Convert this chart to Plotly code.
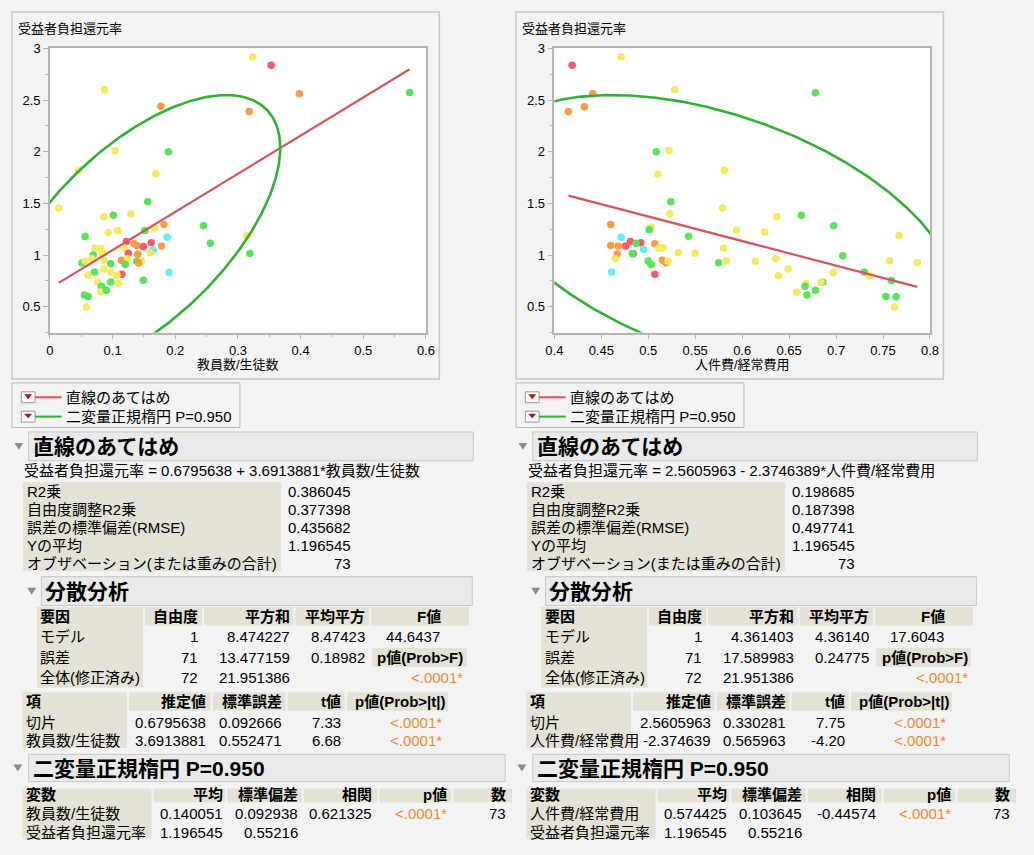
import numpy as np
import plotly.graph_objects as go

W, H = 1034, 855
FONT = "Liberation Sans, Noto Sans CJK JP, sans-serif"

# ---- data: 教員数/生徒数 vs 受益者負担還元率 ----
teacher_ratio = [0.087, 0.177, 0.104, 0.189, 0.169, 0.046, 0.3235, 0.353, 0.398, 0.318,
                 0.574, 0.314, 0.319, 0.014, 0.156, 0.101, 0.086, 0.129, 0.093, 0.108,
                 0.056, 0.182, 0.1515, 0.167, 0.187, 0.245, 0.256, 0.122, 0.1615, 0.134,
                 0.1385, 0.149, 0.178, 0.165, 0.160, 0.118, 0.125, 0.140, 0.072, 0.081,
                 0.084, 0.069, 0.067, 0.051, 0.056, 0.086, 0.097, 0.086, 0.097, 0.114,
                 0.124, 0.120, 0.1385, 0.146, 0.1416, 0.115, 0.071, 0.061, 0.107, 0.076,
                 0.109, 0.097, 0.082, 0.081, 0.090, 0.149, 0.190, 0.055, 0.061, 0.058]
rate_left = [2.60, 2.44, 2.01, 2.00, 1.786, 1.82, 2.92, 2.837, 2.56, 2.39,
             2.574, 1.19, 1.016, 1.456, 1.516, 1.385, 1.37, 1.40, 1.218, 1.237,
             1.18, 1.295, 1.237, 1.263, 1.173, 1.283, 1.115, 1.132, 1.119, 1.11,
             1.093, 1.084, 1.087, 1.052, 1.023, 1.071, 1.019, 1.007, 1.067, 1.067,
             1.019, 1.0, 0.965, 0.923, 0.94, 0.95, 0.917, 0.865, 0.836, 0.95,
             0.965, 0.908, 0.94, 0.94, 0.923, 0.814, 0.836, 0.804, 0.804, 0.74,
             0.728, 0.74, 0.699, 0.644, 0.66, 0.757, 0.833, 0.615, 0.60, 0.497]
group_left = ["Y", "O", "Y", "G", "Y", "Y", "Y", "R", "O", "O",
              "G", "Y", "G", "Y", "G", "G", "Y", "Y", "Y", "Y",
              "G", "O", "G", "Y", "C", "G", "G", "R", "R", "O",
              "O", "R", "O", "C", "Y", "Y", "R", "O", "Y", "Y",
              "Y", "G", "Y", "G", "Y", "Y", "G", "Y", "Y", "O",
              "Y", "G", "G", "Y", "O", "R", "G", "Y", "Y", "Y",
              "Y", "G", "G", "Y", "G", "G", "C", "G", "G", "Y"]

# ---- data: 人件費/経常費用 vs 受益者負担還元率 ----
staff_ratio = [0.419, 0.415, 0.432, 0.441, 0.471, 0.528, 0.5085, 0.522, 0.510, 0.581,
               0.678, 0.524, 0.523, 0.579, 0.460, 0.471, 0.503, 0.501, 0.543, 0.481,
               0.492, 0.487, 0.476, 0.460, 0.468, 0.507, 0.511, 0.516, 0.495, 0.467,
               0.484, 0.483, 0.465, 0.532, 0.550, 0.500, 0.503, 0.515, 0.519, 0.521,
               0.575, 0.583, 0.580, 0.461, 0.507, 0.637, 0.663, 0.594, 0.624, 0.6975,
               0.767, 0.614, 0.636, 0.707, 0.649, 0.6385, 0.697, 0.757, 0.7865, 0.730,
               0.7355, 0.759, 0.668, 0.667, 0.686, 0.684, 0.669, 0.678, 0.658, 0.753,
               0.764, 0.762]
rate_right = [2.837, 2.39, 2.436, 2.56, 2.92, 2.60, 2.0, 2.013, 1.783, 1.82,
              2.571, 1.516, 1.40, 1.456, 1.295, 1.173, 1.27, 1.244, 1.183, 1.132,
              1.12, 1.115, 1.087, 1.093, 1.087, 1.11, 1.067, 1.071, 1.055, 1.01,
              1.013, 1.016, 0.968, 1.023, 1.019, 0.942, 0.91, 0.95, 0.927, 0.94,
              0.927, 0.942, 1.067, 0.836, 0.814, 1.37, 1.385, 1.24, 1.221, 1.283,
              1.19, 0.94, 0.968, 0.994, 0.865, 0.801, 0.83, 0.946, 0.927, 0.836,
              0.801, 0.754, 0.725, 0.699, 0.737, 0.737, 0.613, 0.66, 0.641, 0.60,
              0.596, 0.497]
group_right = ["R", "O", "O", "O", "Y", "Y", "G", "Y", "Y", "Y",
               "G", "G", "Y", "Y", "O", "C", "Y", "G", "G", "R",
               "R", "G", "R", "O", "O", "O", "Y", "Y", "C", "O",
               "R", "G", "Y", "Y", "Y", "G", "G", "O", "O", "Y",
               "G", "Y", "Y", "C", "R", "Y", "G", "Y", "Y", "G",
               "Y", "Y", "Y", "G", "Y", "Y", "Y", "Y", "Y", "G",
               "Y", "G", "Y", "G", "G", "Y", "G", "G", "Y", "G",
               "G", "Y"]

PALETTE = {"Y": "#f4ea5c", "G": "#55e45a", "O": "#fa9a42", "R": "#f8596f", "C": "#62eef8"}

# ---- report texts ----
fit_labels = ["R2乗", "自由度調整R2乗", "誤差の標準偏差(RMSE)", "Yの平均", "オブザベーション(または重みの合計)"]
anova_sources = ["モデル", "誤差", "全体(修正済み)"]
anova_df = ["1", "71", "72"]

left_report = dict(
    intercept=0.6795638, slope=3.6913881,
    eq="受益者負担還元率 = 0.6795638 + 3.6913881*教員数/生徒数",
    fit=["0.386045", "0.377398", "0.435682", "1.196545", "73"],
    ss=["8.474227", "13.477159", "21.951386"], ms=["8.47423", "0.18982", ""], F="44.6437",
    terms=["切片", "教員数/生徒数"], est=["0.6795638", "3.6913881"], se=["0.092666", "0.552471"],
    tval=["7.33", "6.68"],
    var=["教員数/生徒数", "受益者負担還元率"], mean=[0.140051, 1.196545], sd=[0.092938, 0.55216],
    mean_txt=["0.140051", "1.196545"], sd_txt=["0.092938", "0.55216"],
    corr=0.621325, corr_txt="0.621325",
    xtitle="教員数/生徒数",
)
right_report = dict(
    intercept=2.5605963, slope=-2.3746389,
    eq="受益者負担還元率 = 2.5605963 - 2.3746389*人件費/経常費用",
    fit=["0.198685", "0.187398", "0.497741", "1.196545", "73"],
    ss=["4.361403", "17.589983", "21.951386"], ms=["4.36140", "0.24775", ""], F="17.6043",
    terms=["切片", "人件費/経常費用"], est=["2.5605963", "-2.374639"], se=["0.330281", "0.565963"],
    tval=["7.75", "-4.20"],
    var=["人件費/経常費用", "受益者負担還元率"], mean=[0.574425, 1.196545], sd=[0.103645, 0.55216],
    mean_txt=["0.574425", "1.196545"], sd_txt=["0.103645", "0.55216"],
    corr=-0.44574, corr_txt="-0.44574",
    xtitle="人件費/経常費用",
)
P_TXT = "&lt;.0001*"
N_TXT = "73"

RED = "#d9535f"
GREEN = "#2fb233"
ORANGE = "#ee8a2e"
BEIGE = "#e4e2d6"
PAGE = "#f3f3f3"

shapes, annots = [], []


def X(px):
    return px / W


def Y(py):
    return 1 - py / H


def rect(x0, y0, x1, y1, fill, line=None, lw=1):
    shapes.append(dict(type="rect", xref="paper", yref="paper",
                       x0=X(x0), x1=X(x1), y0=Y(y1), y1=Y(y0),
                       fillcolor=fill, line=dict(color=line if line else fill, width=lw if line else 0)))


def hline(x0, x1, y, color, lw=1):
    shapes.append(dict(type="line", xref="paper", yref="paper", x0=X(x0), x1=X(x1), y0=Y(y), y1=Y(y),
                       line=dict(color=color, width=lw)))


def tri(cx, cy, w, h, color):
    path = "M {} {} L {} {} L {} {} Z".format(X(cx - w / 2), Y(cy - h / 2), X(cx + w / 2), Y(cy - h / 2),
                                              X(cx), Y(cy + h / 2))
    shapes.append(dict(type="path", xref="paper", yref="paper", path=path,
                       fillcolor=color, line=dict(color=color, width=0)))


def text(px, py, s, size=15, anchor="left", color="black", bold=False):
    annots.append(dict(xref="paper", yref="paper", x=X(px), y=Y(py),
                       text="<b>%s</b>" % s if bold else s, showarrow=False,
                       xanchor=anchor, yanchor="middle", borderpad=0,
                       font=dict(size=size, color=color, family=FONT)))


def header(x0, x1, y0, y1, label, tri_x):
    rect(x0, y0, x1, y1, "#eaeaea", "#c8c8c8", 1)
    tri(tri_x, (y0 + y1) / 2, 9, 7, "#8c8c8c")
    text(x0 + 3, (y0 + y1) / 2 + 0.5, label, size=21, bold=True)


def draw_report(dx, rep):
    # plot panel frame and titles
    rect(dx + 3, 5, dx + 438, 375, "rgba(0,0,0,0)", "#c9c9c9", 1.5)
    text(dx + 8, 22, "受益者負担還元率", size=13)
    text(dx + 233, 360, rep["xtitle"], size=13, anchor="center")

    # legend box
    rect(dx + 3, 379, dx + 235, 424, "rgba(0,0,0,0)", "#b8b8b8", 1)
    for i, (lab, col) in enumerate([("直線のあてはめ", RED), ("二変量正規楕円 P=0.950", GREEN)]):
        cy = 393.5 + 19.5 * i
        rect(dx + 12.5, cy - 5.5, dx + 26.5, cy + 5.5, "white", "#9a9a9a", 1)
        tri(dx + 19.5, cy - 0.5, 8, 5, "#b3102a")
        hline(dx + 26.5, dx + 53.5, cy, col, 2)
        text(dx + 57, cy, lab, size=15)

    # 直線のあてはめ
    header(dx + 20, dx + 472.5, 428.5, 457.5, "直線のあてはめ", dx + 10)
    text(dx + 14, 467, rep["eq"], size=15)
    rect(dx + 14, 479, dx + 277, 569, BEIGE)
    for i, lab in enumerate(fit_labels):
        cy = 488.5 + 18.1 * i
        text(dx + 17, cy, lab, size=15)
        text(dx + 349, cy, rep["fit"][i], size=15, anchor="right")
    hline(dx + 33, dx + 471, 574.5, "#d0d0d0", 1)

    # 分散分析
    header(dx + 33, dx + 471.5, 574.5, 603.5, "分散分析", dx + 23)
    cells = [(28.5, 136.5), (138.5, 196.5), (198.5, 289.5), (291.5, 366.5), (368.5, 468)]
    for a, b in cells:
        rect(dx + a, 605, dx + b, 623.5, BEIGE)
    rect(dx + 28.5, 623.5, dx + 136.5, 686, BEIGE)
    rect(dx + 369.5, 646, dx + 466, 665.5, BEIGE)
    hy = 614.5
    text(dx + 31, hy, "要因", bold=True)
    text(dx + 193, hy, "自由度", anchor="right", bold=True)
    text(dx + 287, hy, "平方和", anchor="right", bold=True)
    text(dx + 363.5, hy, "平均平方", anchor="right", bold=True)
    text(dx + 441, hy, "F値", anchor="right", bold=True)
    for i, src in enumerate(anova_sources):
        cy = 635 + 20.6 * i
        text(dx + 31, cy, src)
        text(dx + 193, cy, anova_df[i], anchor="right")
        text(dx + 287, cy, rep["ss"][i], anchor="right")
        if rep["ms"][i]:
            text(dx + 363.5, cy, rep["ms"][i], anchor="right")
    text(dx + 440, 635, rep["F"], anchor="right")
    text(dx + 463.5, 656, "p値(Prob&gt;F)", anchor="right", bold=True)
    text(dx + 463.5, 676.5, P_TXT, anchor="right", color=ORANGE)

    # パラメータ推定値
    pcells = [(13.5, 120), (122, 205), (207.5, 281.5), (283.5, 341.5), (344, 446.5)]
    for a, b in pcells:
        rect(dx + a, 691, dx + b, 709.5, BEIGE)
    rect(dx + 13.5, 709.5, dx + 120, 747, BEIGE)
    hy = 700.5
    text(dx + 16, hy, "項", bold=True)
    text(dx + 202, hy, "推定値", anchor="right", bold=True)
    text(dx + 278.5, hy, "標準誤差", anchor="right", bold=True)
    text(dx + 338.5, hy, "t値", anchor="right", bold=True)
    text(dx + 445, hy, "p値(Prob&gt;|t|)", anchor="right", bold=True)
    for i, term in enumerate(rep["terms"]):
        cy = 721.5 + 17.8 * i
        text(dx + 16, cy, term)
        text(dx + 202, cy, rep["est"][i], anchor="right")
        text(dx + 278.5, cy, rep["se"][i], anchor="right")
        text(dx + 338.5, cy, rep["tval"][i], anchor="right")
        text(dx + 441.5, cy, P_TXT, anchor="right", color=ORANGE)

    # 二変量正規楕円
    header(dx + 20, dx + 505, 753.5, 781, "二変量正規楕円 P=0.950", dx + 9)
    bcells = [(13.5, 145), (147, 220), (222, 298), (300, 375), (377, 450), (452.5, 512)]
    for a, b in bcells:
        rect(dx + a, 788, dx + b, 802, BEIGE)
    rect(dx + 13.5, 802, dx + 145, 838.5, BEIGE)
    hy = 794.5
    text(dx + 16, hy, "変数", bold=True)
    text(dx + 218.5, hy, "平均", anchor="right", bold=True)
    text(dx + 295, hy, "標準偏差", anchor="right", bold=True)
    text(dx + 370, hy, "相関", anchor="right", bold=True)
    text(dx + 446.5, hy, "p値", anchor="right", bold=True)
    text(dx + 507, hy, "数", anchor="right", bold=True)
    for i, v in enumerate(rep["var"]):
        cy = 813.5 + 18.4 * i
        text(dx + 16, cy, v)
        text(dx + 218.5, cy, rep["mean_txt"][i], anchor="right")
        text(dx + 295, cy, rep["sd_txt"][i], anchor="right")
    text(dx + 370, 813.5, rep["corr_txt"], anchor="right")
    text(dx + 446.5, 813.5, P_TXT, anchor="right", color=ORANGE)
    text(dx + 507, 813.5, N_TXT, anchor="right")


fig = go.Figure()


def add_panel(xs, ys, groups, rep, xa, ya):
    colors = [PALETTE[g] for g in groups]
    fig.add_trace(go.Scatter(x=xs, y=ys, mode="markers", xaxis=xa, yaxis=ya,
                             marker=dict(size=7.5, color=colors, line=dict(width=0)),
                             showlegend=False, hoverinfo="x+y"))
    # least-squares line over the observed x range
    xl = np.array([min(xs), max(xs)])
    fig.add_trace(go.Scatter(x=xl, y=rep["intercept"] + rep["slope"] * xl, mode="lines",
                             xaxis=xa, yaxis=ya, line=dict(color=RED, width=2.2),
                             showlegend=False, hoverinfo="skip"))
    # 95% bivariate normal ellipse
    c = np.sqrt(-2 * np.log(0.05))
    t = np.linspace(0, 2 * np.pi, 600)
    mx, my = rep["mean"]
    sx, sy = rep["sd"]
    r = rep["corr"]
    ex = mx + c * sx * np.cos(t)
    ey = my + c * sy * (r * np.cos(t) + np.sqrt(1 - r ** 2) * np.sin(t))
    fig.add_trace(go.Scatter(x=ex, y=ey, mode="lines", xaxis=xa, yaxis=ya,
                             line=dict(color=GREEN, width=2.6),
                             showlegend=False, hoverinfo="skip"))


add_panel(teacher_ratio, rate_left, group_left, left_report, "x", "y")
add_panel(staff_ratio, rate_right, group_right, right_report, "x2", "y2")

draw_report(0, left_report)
draw_report(513, right_report)

axis_common = dict(showline=True, linecolor="#b5b5b5", linewidth=1.5, mirror=True,
                   ticks="outside", tickcolor="#b5b5b5", ticklen=5, tickwidth=1,
                   showgrid=False, zeroline=False,
                   tickfont=dict(size=13, color="black", family=FONT))
ydom = [Y(328.3), Y(41.7)]
yaxis_cfg = dict(axis_common, range=[0.25, 3], tickvals=[0.5, 1, 1.5, 2, 2.5, 3],
                 domain=ydom, minor=dict(ticks="outside", dtick=0.25, tick0=0, ticklen=3,
                                         tickcolor="#b5b5b5"))

fig.update_layout(
    width=W, height=H, margin=dict(l=0, r=0, t=0, b=0),
    paper_bgcolor=PAGE, plot_bgcolor="white",
    xaxis=dict(axis_common, range=[0, 0.6], dtick=0.1, tick0=0, domain=[X(41.7), X(424.3)], anchor="y",
               minor=dict(ticks="outside", dtick=0.05, ticklen=3, tickcolor="#b5b5b5")),
    yaxis=dict(yaxis_cfg, anchor="x"),
    xaxis2=dict(axis_common, range=[0.4, 0.8], dtick=0.05, tick0=0.4, domain=[X(555), X(937.3)], anchor="y2"),
    yaxis2=dict(yaxis_cfg, anchor="x2"),
    shapes=shapes, annotations=annots,
    font=dict(family=FONT),
)

fig.write_html("out.html")
